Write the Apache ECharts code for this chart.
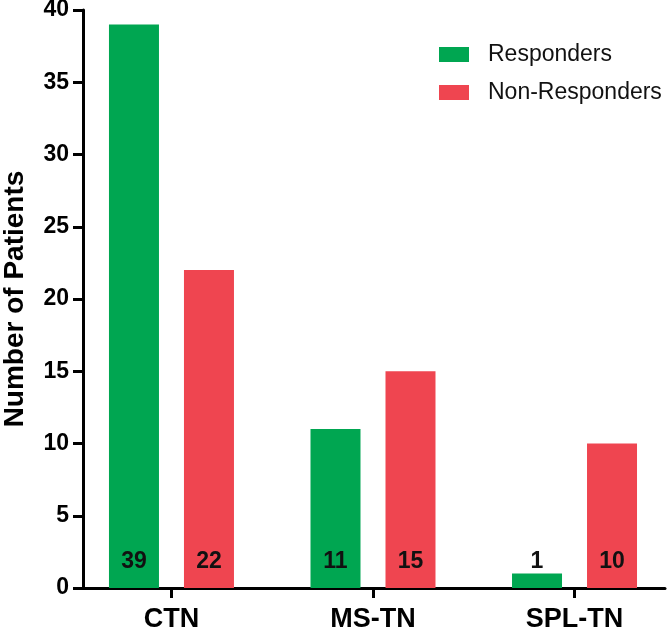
<!DOCTYPE html>
<html>
<head>
<meta charset="utf-8">
<script src="https://cdn.jsdelivr.net/npm/echarts@6/dist/echarts.min.js"></script>
<style>html,body{margin:0;padding:0;background:#fff;}#c{width:671px;height:634px;}</style>
</head>
<body>
<div id="c"></div>
<script>
const categories = ['CTN', 'MS-TN', 'SPL-TN'];
const responders = [39, 11, 1];
const nonResponders = [22, 15, 10];
const seriesNames = ['Responders', 'Non-Responders'];
const yTicks = { min: 0, max: 40, interval: 5 };

const catIdx = categories.map((c, i) => i);
const chart = echarts.init(document.getElementById('c'), null, { renderer: 'canvas' });
const font = 'Liberation Sans, Arial, sans-serif';
const labelCfg = {
  show: true,
  position: 'insideBottom',
  distance: 15,
  color: '#111',
  fontFamily: font,
  fontWeight: 'bold',
  fontSize: 23,
  formatter: p => p.value[1]
};
chart.setOption({
  animation: false,
  backgroundColor: '#fff',
  grid: { left: 83, right: 6, top: 10, bottom: 46, containLabel: false, outerBoundsMode: 'none' },
  legend: {
    left: 434, top: 38, orient: 'vertical', itemWidth: 30, itemHeight: 15, itemGap: 15,
    icon: 'rect',
    textStyle: { fontFamily: font, fontSize: 23, color: '#111', padding: [0, 0, 0, 14] },
    data: seriesNames
  },
  xAxis: {
    type: 'value', min: -0.439, max: 2.449,
    splitLine: { show: false },
    axisLine: { show: true, onZero: false, lineStyle: { color: '#000', width: 3 } },
    axisTick: { show: true, customValues: catIdx, length: 10, lineStyle: { color: '#000', width: 3 } },
    axisLabel: { customValues: catIdx, formatter: v => categories[Math.round(v)],
      fontFamily: font, fontWeight: 'bold', fontSize: 27, color: '#000', margin: 18 }
  },
  yAxis: {
    type: 'value', min: yTicks.min, max: yTicks.max, interval: yTicks.interval,
    name: 'Number of Patients', nameLocation: 'middle', nameGap: 54, nameRotate: 90,
    nameTextStyle: { fontFamily: font, fontWeight: 'bold', fontSize: 28, color: '#000' },
    axisLine: { show: true, onZero: false, lineStyle: { color: '#000', width: 3 } },
    axisTick: { show: true, length: 10, lineStyle: { color: '#000', width: 3 } },
    splitLine: { show: false },
    axisLabel: { fontFamily: font, fontWeight: 'bold', fontSize: 23, color: '#000', margin: 14 }
  },
  series: [
    { name: seriesNames[0], type: 'bar', data: catIdx.map(i => [i, responders[i]]), barWidth: 50, barGap: '50%',
      itemStyle: { color: '#00a651' }, label: labelCfg },
    { name: seriesNames[1], type: 'bar', data: catIdx.map(i => [i, nonResponders[i]]), barWidth: 50,
      itemStyle: { color: '#ef4550' }, label: labelCfg }
  ]
});
</script>
</body>
</html>
